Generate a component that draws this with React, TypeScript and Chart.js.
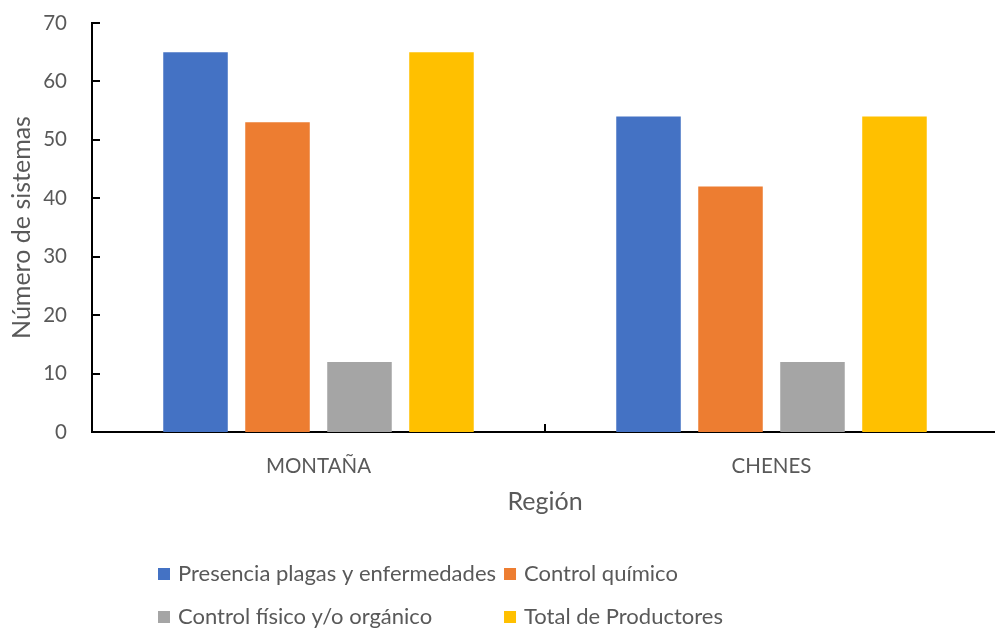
import React, { useEffect, useRef } from "react";
import { Chart, registerables } from "chart.js";

Chart.register(...registerables);

// Regions and the four series plotted for each one
const categories = ["MONTAÑA", "CHENES"];
const seriesNames = [
  "Presencia plagas y enfermedades",
  "Control químico",
  "Control físico y/o orgánico",
  "Total de Productores",
];
const presenciaPlagas = [65, 54];
const controlQuimico = [53, 42];
const controlFisico = [12, 12];
const totalProductores = [65, 54];
const seriesColors = ["#4472C4", "#ED7D31", "#A5A5A5", "#FFC000"];

const yMin = 0;
const yMax = 70;
const yStep = 10;

const FONT = "Lato, 'Open Sans', sans-serif";
const TEXT = "#595959";

// Short tick marks that sit on the inner side of both axes
const innerTicks = {
  id: "innerTicks",
  afterDraw(chart: any) {
    const { ctx, chartArea, scales } = chart;
    const ys = scales.y;
    const xs = scales.x;
    ctx.save();
    ctx.strokeStyle = "#000";
    ctx.lineWidth = 2;
    ctx.beginPath();
    for (let v = yMin; v <= yMax; v += yStep) {
      const py = Math.round(ys.getPixelForValue(v));
      ctx.moveTo(chartArea.left, py);
      ctx.lineTo(chartArea.left + 8, py);
    }
    for (let i = 0; i <= categories.length; i++) {
      const px = Math.round(xs.getPixelForValue(i - 0.5));
      ctx.moveTo(px, chartArea.bottom);
      ctx.lineTo(px, chartArea.bottom - 8);
    }
    ctx.stroke();
    ctx.restore();
  },
};

// Two-column legend under the axis title
const gridLegend = {
  id: "gridLegend",
  afterDraw(chart: any) {
    const { ctx } = chart;
    const datasets = chart.data.datasets;
    const box = 12;
    const gap = 8;
    const left = 158;
    const rows = [574, 617];
    ctx.save();
    ctx.font = `22px ${FONT}`;
    ctx.textBaseline = "middle";
    ctx.textAlign = "left";
    const col1Width = Math.max(
      ...datasets
        .filter((_: any, i: number) => i % 2 === 0)
        .map((d: any) => ctx.measureText(d.label).width)
    );
    const cols = [left, left + box + gap + col1Width + gap];
    datasets.forEach((d: any, i: number) => {
      const cx = cols[i % 2];
      const cy = rows[Math.floor(i / 2)];
      ctx.fillStyle = d.backgroundColor;
      ctx.fillRect(cx, cy - box / 2, box, box);
      ctx.fillStyle = TEXT;
      ctx.fillText(d.label, cx + box + gap, cy);
    });
    ctx.restore();
  },
};

export default function App() {
  const canvasRef = useRef<HTMLCanvasElement | null>(null);

  useEffect(() => {
    const canvas = canvasRef.current;
    if (!canvas) return;
    const values = [presenciaPlagas, controlQuimico, controlFisico, totalProductores];
    const chart = new Chart(canvas, {
      type: "bar",
      data: {
        labels: categories,
        datasets: seriesNames.map((name, i) => ({
          label: name,
          data: values[i],
          backgroundColor: seriesColors[i],
          borderWidth: 0,
          categoryPercentage: 0.724,
          barPercentage: 0.787,
        })),
      },
      options: {
        responsive: false,
        animation: false,
        layout: { padding: { top: 23, right: 2, left: 0, bottom: 0 } },
        plugins: {
          legend: { display: false },
          tooltip: { enabled: false },
        },
        scales: {
          x: {
            grid: { display: false },
            border: { display: true, color: "#000", width: 2 },
            ticks: {
              color: TEXT,
              font: { family: FONT, size: 20.5 },
              padding: 14,
            },
            title: {
              display: true,
              text: "Región",
              color: TEXT,
              font: { family: FONT, size: 25 },
              padding: { bottom: 111 },
            },
            afterFit(scale: any) {
              scale.height = 196;
              scale.paddingLeft = 0;
              scale.paddingRight = 0;
            },
          },
          y: {
            min: yMin,
            max: yMax,
            grid: { display: false },
            border: { display: true, color: "#000", width: 2 },
            ticks: {
              stepSize: yStep,
              color: TEXT,
              font: { family: FONT, size: 20.5 },
              padding: 17,
            },
            title: {
              display: true,
              text: "Número de sistemas",
              color: TEXT,
              font: { family: FONT, size: 25 },
              padding: { top: 7 },
            },
            afterFit(scale: any) {
              scale.width = 92;
              scale.paddingTop = 0;
              scale.paddingBottom = 0;
            },
          },
        },
      },
      plugins: [innerTicks, gridLegend],
    });
    return () => chart.destroy();
  }, []);

  return (
    <div
      style={{
        position: "fixed",
        left: 0,
        top: 0,
        width: 995,
        height: 628,
        overflow: "hidden",
        background: "#fff",
      }}
    >
      <canvas
        ref={canvasRef}
        width={1000}
        height={628}
        style={{ width: 1000, height: 628, display: "block" }}
      />
    </div>
  );
}
